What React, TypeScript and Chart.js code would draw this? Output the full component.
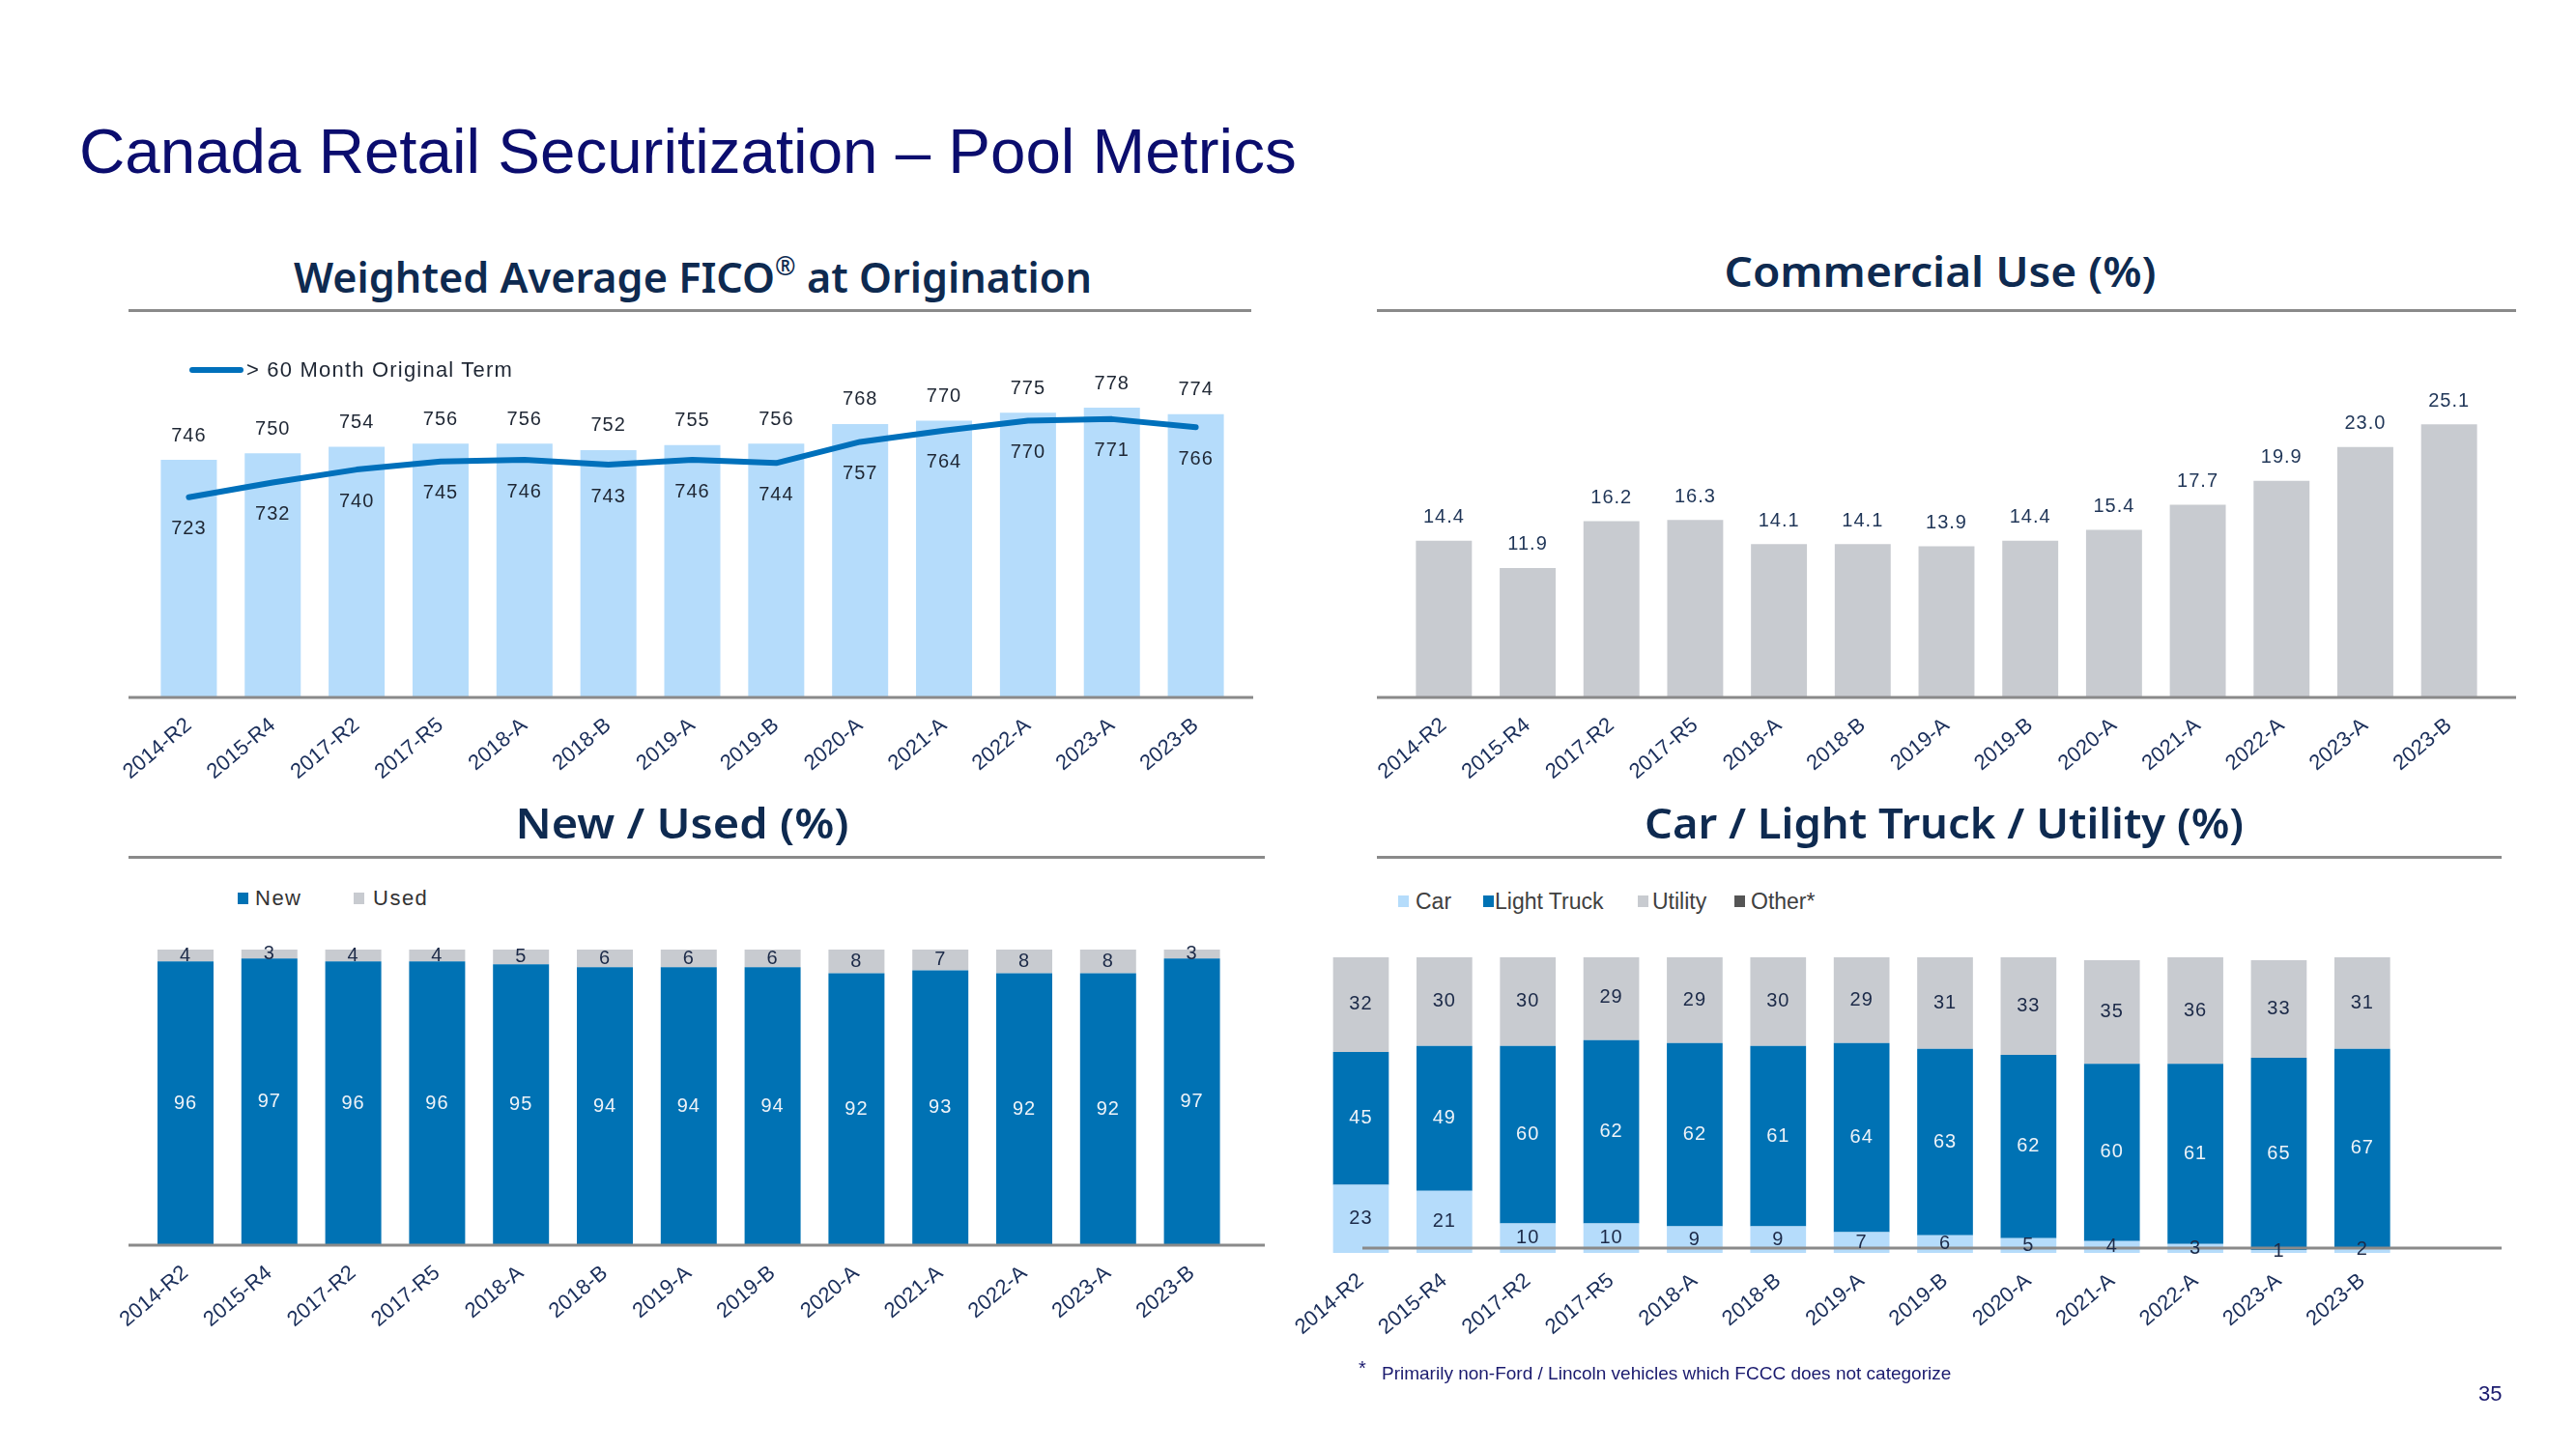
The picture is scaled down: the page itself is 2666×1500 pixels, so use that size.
import React, { useEffect, useLayoutEffect, useRef } from "react";
import { Chart, registerables } from "chart.js";

Chart.register(...registerables);

// ---------------- DATA ----------------
const categories = [
  "2014-R2", "2015-R4", "2017-R2", "2017-R5", "2018-A", "2018-B", "2019-A",
  "2019-B", "2020-A", "2021-A", "2022-A", "2023-A", "2023-B",
];
const ficoAllPool = [746, 750, 754, 756, 756, 752, 755, 756, 768, 770, 775, 778, 774];
const ficoOver60Month = [723, 732, 740, 745, 746, 743, 746, 744, 757, 764, 770, 771, 766];
const commercialUsePct = [14.4, 11.9, 16.2, 16.3, 14.1, 14.1, 13.9, 14.4, 15.4, 17.7, 19.9, 23.0, 25.1];
const newPct = [96, 97, 96, 96, 95, 94, 94, 94, 92, 93, 92, 92, 97];
const usedPct = [4, 3, 4, 4, 5, 6, 6, 6, 8, 7, 8, 8, 3];
const carPct = [23, 21, 10, 10, 9, 9, 7, 6, 5, 4, 3, 1, 2];
const lightTruckPct = [45, 49, 60, 62, 62, 61, 64, 63, 62, 60, 61, 65, 67];
const utilityPct = [32, 30, 30, 29, 29, 30, 29, 31, 33, 35, 36, 33, 31];
const otherPct = [0.4, 0, 0, 0, 0, 0, 0, 0, 0, 0, 0, 0, 0];

const ficoLegendLabel = "> 60 Month Original Term";
const newUsedLegend = ["New", "Used"];
const vehicleLegend = ["Car", "Light Truck", "Utility", "Other*"];

// ---------------- STYLE ----------------
const SANS = "'Liberation Sans', Arial, Helvetica, sans-serif";
const HEAD = "'Noto Sans', 'Open Sans', sans-serif";
const LIGHT_BLUE = "#B5DCFB";
const DARK_BLUE = "#0072B4";
const LINE_BLUE = "#0070BB";
const GRAY = "#C8CBD0";
const OTHER_GRAY = "#555555";
const TICK_COLOR = "#1a2e5a";
const NAVY_TEXT = "#1c2a48";
const WHITE_TEXT = "#eef3f8";
const TITLE_COLOR = "#0b0d6e";
const SUB_COLOR = "#0e2a50";
const RULE_COLOR = "#8a8a8a";

Chart.defaults.font.family = SANS;

// ---------------- PLUGINS ----------------
const axisLine = {
  id: "axisLine",
  afterDatasetsDraw(chart: any, _a: any, opts: any) {
    const { ctx, chartArea } = chart;
    const y = chartArea.bottom + (opts.dy || 0);
    ctx.save();
    ctx.strokeStyle = opts.color || RULE_COLOR;
    ctx.lineWidth = opts.width || 3;
    ctx.beginPath();
    ctx.moveTo(chartArea.left - (opts.extendLeft || 0), y);
    ctx.lineTo(chartArea.right + (opts.extendRight || 0), y);
    ctx.stroke();
    ctx.restore();
  },
};

const valueLabels = {
  id: "valueLabels",
  afterDatasetsDraw(chart: any) {
    const ctx = chart.ctx;
    chart.data.datasets.forEach((ds: any, i: number) => {
      const cfg = ds.valueLabel;
      if (!cfg) return;
      const meta = chart.getDatasetMeta(i);
      meta.data.forEach((el: any, j: number) => {
        const v = ds.data[j];
        if (v == null) return;
        let y: number;
        if (cfg.pos === "above") y = el.y - cfg.offset;
        else if (cfg.pos === "below") y = el.y + cfg.offset;
        else y = (el.y + el.base) / 2;
        ctx.save();
        ctx.font = `${cfg.size || 20}px ${SANS}`;
        (ctx as any).letterSpacing = cfg.spacing || "1px";
        ctx.fillStyle = cfg.color;
        ctx.textAlign = "center";
        ctx.textBaseline = "middle";
        const txt = cfg.decimals != null ? Number(v).toFixed(cfg.decimals) : String(v);
        ctx.fillText(txt, el.x, y);
        ctx.restore();
      });
    });
  },
};

function xScale(axisHeight: number, stacked = false) {
  return {
    stacked,
    offset: true,
    grid: { display: false, drawTicks: false },
    border: { display: false },
    ticks: {
      autoSkip: false,
      maxRotation: 40,
      minRotation: 40,
      padding: 16,
      color: TICK_COLOR,
      font: { size: 22, family: SANS },
    },
    afterFit(scale: any) {
      scale.height = axisHeight;
      scale.paddingLeft = 0;
      scale.paddingRight = 0;
    },
  };
}

function baseOptions(pad: any, axisH: number, y: any, axisOpts: any, stacked = false) {
  return {
    responsive: false,
    animation: false,
    devicePixelRatio: 1,
    layout: { padding: pad, autoPadding: false },
    plugins: {
      legend: { display: false },
      tooltip: { enabled: false },
      axisLine: axisOpts,
    },
    scales: {
      x: xScale(axisH, stacked),
      y: { display: false, stacked, ...y },
    },
  };
}

// ---------------- CHART CONFIGS ----------------
function ficoConfig(): any {
  return {
    type: "bar",
    data: {
      labels: categories,
      datasets: [
        {
          type: "line",
          label: ficoLegendLabel,
          data: ficoOver60Month,
          borderColor: LINE_BLUE,
          borderWidth: 6,
          pointRadius: 0,
          tension: 0,
          borderCapStyle: "round",
          borderJoinStyle: "round",
          order: 0,
          valueLabel: { pos: "below", offset: 33, color: "#1e2633" },
        },
        {
          type: "bar",
          label: "All",
          data: ficoAllPool,
          backgroundColor: LIGHT_BLUE,
          barPercentage: 0.668,
          categoryPercentage: 1,
          order: 1,
          valueLabel: { pos: "above", offset: 25, color: "#1e2633" },
        },
      ],
    },
    options: baseOptions(
      { left: 52, right: 29, top: 55, bottom: 0 },
      148,
      { min: 600, max: 800 },
      { extendLeft: 19, extendRight: 16 }
    ),
    plugins: [axisLine, valueLabels],
  };
}

function commercialConfig(): any {
  return {
    type: "bar",
    data: {
      labels: categories,
      datasets: [
        {
          label: "Commercial Use",
          data: commercialUsePct,
          backgroundColor: GRAY,
          barPercentage: 0.668,
          categoryPercentage: 1,
          valueLabel: { pos: "above", offset: 24, color: "#1f3557", decimals: 1 },
        },
      ],
    },
    options: baseOptions(
      { left: 61, right: 42, top: 54, bottom: 0 },
      148,
      { min: 0, max: 30 },
      { extendLeft: 26, extendRight: 26 }
    ),
    plugins: [axisLine, valueLabels],
  };
}

function newUsedConfig(): any {
  return {
    type: "bar",
    data: {
      labels: categories,
      datasets: [
        {
          label: newUsedLegend[0],
          data: newPct,
          backgroundColor: DARK_BLUE,
          barPercentage: 0.668,
          categoryPercentage: 1,
          valueLabel: { pos: "center", color: WHITE_TEXT },
        },
        {
          label: newUsedLegend[1],
          data: usedPct,
          backgroundColor: GRAY,
          barPercentage: 0.668,
          categoryPercentage: 1,
          valueLabel: { pos: "center", color: NAVY_TEXT },
        },
      ],
    },
    options: baseOptions(
      { left: 48.6, right: 33, top: 33, bottom: 0 },
      191,
      { min: 0, max: 100 },
      { extendLeft: 15.6, extendRight: 32 },
      true
    ),
    plugins: [axisLine, valueLabels],
  };
}

function vehicleConfig(): any {
  const common = { barPercentage: 0.668, categoryPercentage: 1 };
  return {
    type: "bar",
    data: {
      labels: categories,
      datasets: [
        { label: vehicleLegend[0], data: carPct, backgroundColor: LIGHT_BLUE, ...common,
          valueLabel: { pos: "center", color: NAVY_TEXT } },
        { label: vehicleLegend[1], data: lightTruckPct, backgroundColor: DARK_BLUE, ...common,
          valueLabel: { pos: "center", color: WHITE_TEXT } },
        { label: vehicleLegend[2], data: utilityPct, backgroundColor: GRAY, ...common,
          valueLabel: { pos: "center", color: NAVY_TEXT } },
        { label: vehicleLegend[3], data: otherPct, backgroundColor: OTHER_GRAY, ...common },
      ],
    },
    options: baseOptions(
      { left: 65.3, right: 132, top: 41, bottom: 0 },
      183,
      { min: 0, max: 100 },
      { extendLeft: -44.7, extendRight: 101, dy: -5 },
      true
    ),
    plugins: [axisLine, valueLabels],
  };
}

// ---------------- COMPONENTS ----------------
function ChartBox(props: { left: number; top: number; width: number; height: number; make: () => any }) {
  const ref = useRef<HTMLCanvasElement>(null);
  useEffect(() => {
    const chart = new Chart(ref.current as HTMLCanvasElement, props.make());
    return () => chart.destroy();
  }, []);
  return (
    <canvas
      ref={ref}
      width={props.width}
      height={props.height}
      style={{ position: "absolute", left: props.left, top: props.top, width: props.width, height: props.height }}
    />
  );
}

function FitText(props: { cx: number; baseline: number; width: number; size: number; children: any }) {
  const ref = useRef<HTMLSpanElement>(null);
  useLayoutEffect(() => {
    const el = ref.current;
    if (!el) return;
    const apply = () => {
      el.style.transform = "none";
      const w = el.getBoundingClientRect().width;
      if (w > 0) el.style.transform = `scaleX(${props.width / w})`;
    };
    apply();
    if ((document as any).fonts) (document as any).fonts.ready.then(apply);
  }, []);
  return (
    <div
      style={{
        position: "absolute",
        left: props.cx,
        top: props.baseline - 0.888 * props.size,
        transform: "translateX(-50%)",
        whiteSpace: "nowrap",
        lineHeight: 1,
      }}
    >
      <span
        ref={ref}
        style={{
          display: "inline-block",
          fontFamily: HEAD,
          fontWeight: 600,
          fontSize: props.size,
          lineHeight: 1,
          color: SUB_COLOR,
          transformOrigin: "50% 50%",
        }}
      >
        {props.children}
      </span>
    </div>
  );
}

function Rule(props: { left: number; width: number; top: number }) {
  return (
    <div style={{ position: "absolute", left: props.left, top: props.top, width: props.width, height: 3, background: RULE_COLOR }} />
  );
}

function Txt(props: { left: number; cy: number; size: number; color: string; spacing?: number; children: any }) {
  return (
    <div
      style={{
        position: "absolute",
        left: props.left,
        top: props.cy - props.size / 2,
        fontFamily: SANS,
        fontSize: props.size,
        lineHeight: 1,
        color: props.color,
        letterSpacing: props.spacing || 0,
        whiteSpace: "nowrap",
      }}
    >
      {props.children}
    </div>
  );
}

function Swatch(props: { left: number; cy: number; color: string }) {
  return (
    <div style={{ position: "absolute", left: props.left, top: props.cy - 6, width: 11, height: 12, background: props.color }} />
  );
}

export default function App() {
  const vehicleColors = [LIGHT_BLUE, DARK_BLUE, GRAY, OTHER_GRAY];
  const vehicleSwatchX = [1447, 1535, 1695, 1795];
  const vehicleTextX = [1465, 1547, 1710, 1812];
  return (
    <div
      style={{
        position: "absolute",
        left: 0,
        top: 0,
        width: 2666,
        height: 1500,
        overflow: "hidden",
        background: "#ffffff",
      }}
    >
      <ChartBox left={100} top={330} width={1210} height={540} make={ficoConfig} />
      <ChartBox left={1390} top={330} width={1230} height={540} make={commercialConfig} />
      <ChartBox left={100} top={950} width={1210} height={530} make={newUsedConfig} />
      <ChartBox left={1300} top={950} width={1320} height={530} make={vehicleConfig} />

      <div
        style={{
          position: "absolute",
          left: 82,
          top: 179 - 0.8465 * 65.5,
          fontFamily: SANS,
          fontSize: 65.5,
          lineHeight: 1,
          color: TITLE_COLOR,
          whiteSpace: "nowrap",
        }}
      >
        Canada Retail Securitization – Pool Metrics
      </div>

      <FitText cx={717} baseline={301} width={826} size={44}>
        Weighted Average FICO
        <span style={{ fontSize: "0.6em", verticalAlign: "0.7em", fontWeight: 500 }}>®</span>
        {" at Origination"}
      </FitText>
      <FitText cx={2008} baseline={297} width={447} size={44}>Commercial Use (%)</FitText>
      <FitText cx={706} baseline={868} width={345} size={44}>New / Used (%)</FitText>
      <FitText cx={2012} baseline={868} width={620} size={44}>Car / Light Truck / Utility (%)</FitText>

      <Rule left={133} width={1162} top={320} />
      <Rule left={1425} width={1179} top={320} />
      <Rule left={133} width={1176} top={886} />
      <Rule left={1425} width={1164} top={886} />

      {/* FICO legend */}
      <div style={{ position: "absolute", left: 196, top: 380, width: 56, height: 6, borderRadius: 3, background: LINE_BLUE }} />
      <Txt left={255} cy={383} size={22} color="#1e2633" spacing={1.2}>{ficoLegendLabel}</Txt>

      {/* New / Used legend */}
      <Swatch left={246} cy={930} color={DARK_BLUE} />
      <Txt left={264} cy={930} size={22} color="#333333" spacing={1.5}>{newUsedLegend[0]}</Txt>
      <Swatch left={366} cy={930} color={GRAY} />
      <Txt left={386} cy={930} size={22} color="#333333" spacing={1.5}>{newUsedLegend[1]}</Txt>

      {/* Vehicle legend */}
      {vehicleLegend.map((name, i) => (
        <React.Fragment key={name}>
          <Swatch left={vehicleSwatchX[i]} cy={933} color={vehicleColors[i]} />
          <Txt left={vehicleTextX[i]} cy={933} size={23} color="#404040">{name}</Txt>
        </React.Fragment>
      ))}

      {/* Footnote and page number */}
      <Txt left={1406} cy={1416} size={20} color="#1a1a6e">*</Txt>
      <Txt left={1430} cy={1421} size={19} color="#1a1a6e">Primarily non-Ford / Lincoln vehicles which FCCC does not categorize</Txt>
      <Txt left={2565} cy={1443} size={22} color="#1a1a6e">35</Txt>
    </div>
  );
}
